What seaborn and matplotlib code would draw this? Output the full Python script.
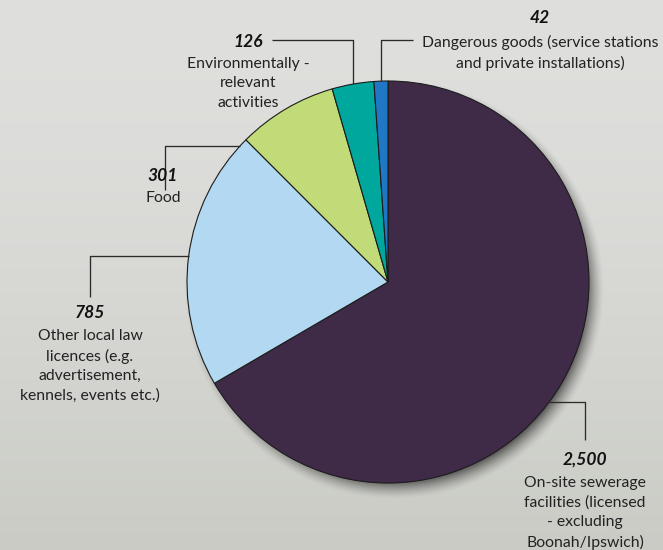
import numpy as np
import matplotlib
matplotlib.use("Agg")
import matplotlib.pyplot as plt
import seaborn as sns

# Licence / approval counts by category
categories = [
    "On-site sewerage\nfacilities (licensed\n- excluding\nBoonah/Ipswich)",
    "Other local law\nlicences (e.g.\nadvertisement,\nkennels, events etc.)",
    "Food",
    "Environmentally -\nrelevant\nactivities",
    "Dangerous goods (service stations\nand private installations)",
]
counts = [2500, 785, 301, 126, 42]
value_labels = ["2,500", "785", "301", "126", "42"]
colors = ["#3F2A47", "#B3D8F2", "#C1DB78", "#00A79D", "#1F77C5"]

sns.set_style("white")
plt.rcParams["font.family"] = ["Lato", "DejaVu Sans"]

W, H = 663, 550
fig = plt.figure(figsize=(W / 100, H / 100), dpi=100)
ax = fig.add_axes([0, 0, 1, 1])

# pie geometry in pixel units (y measured from the top)
cx, cy_top, R = 388.0, 282.0, 201.0
cy = H - cy_top

# soft grey backdrop with a drop shadow under the pie
yy, xx = np.mgrid[0:H, 0:W].astype(float)
t = (yy / H)[..., None] ** 1.6
top_col = np.array([223, 223, 221]) / 255
bot_col = np.array([201, 203, 196]) / 255
bg = top_col * (1 - t) + bot_col * t
d = np.hypot(xx - (cx + 6), yy - (cy_top + 7))
shade = 0.55 * np.clip((R + 9 - d) / 18, 0, 1) ** 1.5
bg = bg * (1 - shade[..., None])
ax.imshow(bg, extent=(0, W, 0, H), origin="upper", zorder=0, interpolation="bilinear")

wedges, _ = ax.pie(
    counts, colors=colors, startangle=90, counterclock=False,
    center=(cx, cy), radius=R, frame=True,
    wedgeprops=dict(edgecolor="#1c1c1c", linewidth=0.8),
)
for w in wedges:
    w.set_zorder(2)

ax.set_xlim(0, W)
ax.set_ylim(0, H)
ax.set_aspect("equal")
ax.axis("off")

# wedge mid angles
total = sum(counts)
cum = np.cumsum([0] + counts)
mids = [90 - 360 * (cum[i] + cum[i + 1]) / 2 / total for i in range(len(counts))]

# leader layout: (anchor angle, mode, elbow, end, label x, number y, first text line y)
layout = [
    (-36.8, "h", 585, 440, 585, 460, 481),
    (mids[1], "h", 90, 297, 90, 313, 334),
    (137.4, "h", 165, 190, 163, 176, 196),
    (mids[3], "v", 40, 272, 248, 42, 62),
    (mids[4], "v", 40, 413, 540, 18, 40),
]

line_kw = dict(color="#2b2b2b", lw=0.95, zorder=3, solid_capstyle="butt")
for i, (ang, mode, elbow, end, lx, ny, ty) in enumerate(layout):
    a = np.deg2rad(ang)
    px = cx + R * np.cos(a)
    py = cy + R * np.sin(a)
    if mode == "h":
        ax.plot([px, elbow, elbow], [py, py, H - end], **line_kw)
    else:
        ax.plot([px, px, end], [py, H - elbow, H - elbow], **line_kw)
    ax.text(lx, H - ny, value_labels[i], ha="center", va="center",
            fontsize=12.5, fontweight="bold", fontstyle="italic",
            color="#111111", zorder=4)
    ax.text(lx, H - ty + 5, categories[i], ha="center", va="top",
            fontsize=11.3, color="#222222", linespacing=1.48, zorder=4)

fig.savefig("out.png", dpi=100)
